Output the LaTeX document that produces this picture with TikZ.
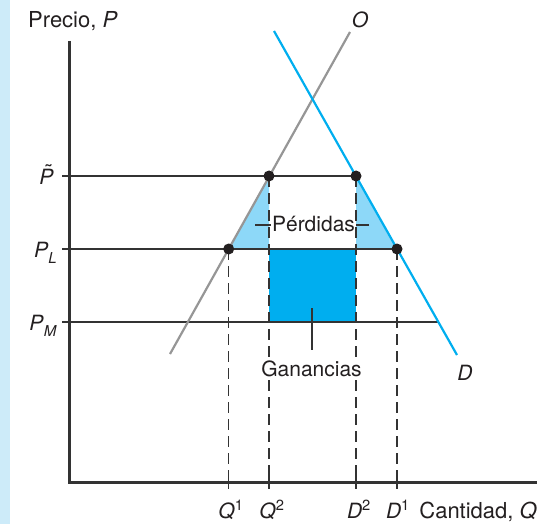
\documentclass[tikz,border=0pt]{standalone}
\usepackage{fontspec}
\setmainfont{TeX Gyre Heros}
\usepackage{xcolor}
\usepackage{tikz}
\usetikzlibrary{positioning}
\definecolor{stripblue}{RGB}{205,235,249}
\definecolor{dkgray}{RGB}{51,51,51}
\definecolor{supgray}{RGB}{150,150,150}
\definecolor{dmdblue}{RGB}{0,174,239}
\definecolor{ltblue}{RGB}{141,216,248}
\definecolor{txtgray}{RGB}{35,31,32}
\newcommand{\psub}[1]{\textit{P}\raisebox{-0.3em}{\fontsize{15}{15}\selectfont\textit{#1}}}
\newcommand{\ptilde}{\ooalign{\textit{P}\cr\hidewidth\kern0.2em\raisebox{0.22em}{\char"02DC}\hidewidth\cr}}
\tikzset{
    axisline/.style={line width=3pt, draw=dkgray, line join=miter},
    priceline/.style={line width=1.2pt, draw=dkgray},
    guide/.style={line width=1.3pt, draw=dkgray, dash pattern=on 11pt off 6pt},
    tickmark/.style={line width=1.3pt, draw=dkgray},
    supply/.style={line width=2.2pt, draw=supgray},
    demand/.style={line width=2.2pt, draw=dmdblue},
    dot/.style={circle, fill=txtgray, inner sep=0pt, minimum size=11pt},
    lbl/.style={font=\fontsize{21}{24}\selectfont, text=txtgray, inner sep=1pt},
    axislbl/.style={lbl, font=\fontsize{22}{25}\selectfont},
}

\begin{document}
\begin{tikzpicture}[x=1pt, y=-1pt]
    \useasboundingbox (0,0) rectangle (549,524);
    % Side strip
    \fill[stripblue] (0,0) rectangle (10,524);

    % Key points
    \coordinate (orig) at (69,482);
    \coordinate (ytop) at (69,41);
    \coordinate (xend) at (537,482);
    \coordinate (supLo) at (170,354);
    \coordinate (supHi) at (350,32);
    \coordinate (dmdHi) at (274,31);
    \coordinate (dmdLo) at (457,355);
    \coordinate (q1) at (228.7,249);
    \coordinate (q2) at (269,176);
    \coordinate (d2) at (356,176);
    \coordinate (d1) at (397,249);
    \coordinate (q2L) at (269,249);
    \coordinate (d2L) at (356,249);
    \coordinate (q2M) at (269,322);
    \coordinate (d2M) at (356,322);
    \coordinate (pmD) at (438.4,322);
    \coordinate (tP) at (62,176);
    \coordinate (tL) at (62,249);
    \coordinate (tM) at (62,322);

    % Shaded areas
    \fill[ltblue] (q1) -- (q2) -- (q2L) -- cycle;
    \fill[ltblue] (d2) -- (d1) -- (d2L) -- cycle;
    \fill[dmdblue] (q2L) rectangle (d2M);

    % Price lines
    \draw[priceline] (tP) -- (d2);
    \draw[priceline] (tL) -- (d1);
    \draw[priceline] (tM) -- (pmD);

    % Supply and demand
    \draw[supply] (supLo) -- (supHi);
    \draw[demand] (dmdHi) -- (dmdLo);

    % Guides down to the axis
    \draw[guide] (q1) -- (q1 |- orig);
    \draw[guide] (q2) -- (q2 |- orig);
    \draw[guide] (d2) -- (d2 |- orig);
    \draw[guide] (d1) -- (d1 |- orig);
    \foreach \c in {q1,q2,d2,d1}
        \draw[tickmark] ([yshift=7pt]\c |- orig) -- ([yshift=-7pt]\c |- orig);

    % Axes
    \draw[axisline] (ytop) -- (orig) -- (xend);

    % Dots
    \node[dot] (dq1) at (q1) {};
    \node[dot] (dq2) at (q2) {};
    \node[dot] (dd2) at (d2) {};
    \node[dot] (dd1) at (d1) {};

    % Axis labels
    \node[axislbl, anchor=base west] (ylab) at (27,28) {Precio, \textit{P}};
    \node[axislbl, anchor=base east] (xlab) at (538,518) {Cantidad, \textit{Q}};
    \node[lbl, anchor=base east] (ptil) at (55,184) {\ptilde};
    \node[lbl, anchor=base east] (pl) at (58,257) {\psub{L}};
    \node[lbl, anchor=base east] (pm) at (58,330) {\psub{M}};
    \node[lbl, anchor=base] (lq1) at (231,518) {\textit{Q}\textsuperscript{1}};
    \node[lbl, anchor=base] (lq2) at (272,518) {\textit{Q}\textsuperscript{2}};
    \node[lbl, anchor=base] (ld2) at (359,518) {\textit{D}\textsuperscript{2}};
    \node[lbl, anchor=base] (ld1) at (398,518) {\textit{D}\textsuperscript{1}};
    \node[lbl] (olab) at (360,19.5) {\textit{O}};
    \node[lbl] (dlab) at (465,373) {\textit{D}};

    % Area labels
    \node[lbl, anchor=base] (perd) at (313.5,231) {Pérdidas};
    \coordinate (lossL) at (255,225);
    \coordinate (lossR) at (369,225);
    \draw[priceline] (lossL) -- (lossL -| perd.west);
    \draw[priceline] (lossR) -- (lossR -| perd.east);
    \node[lbl, anchor=base, fill=white, inner sep=2pt] (gan) at (311.5,376) {Ganancias};
    \coordinate (gainTop) at (312,308);
    \draw[priceline, shorten >=8pt] (gainTop) -- (gainTop |- gan.north);
\end{tikzpicture}
\end{document}
